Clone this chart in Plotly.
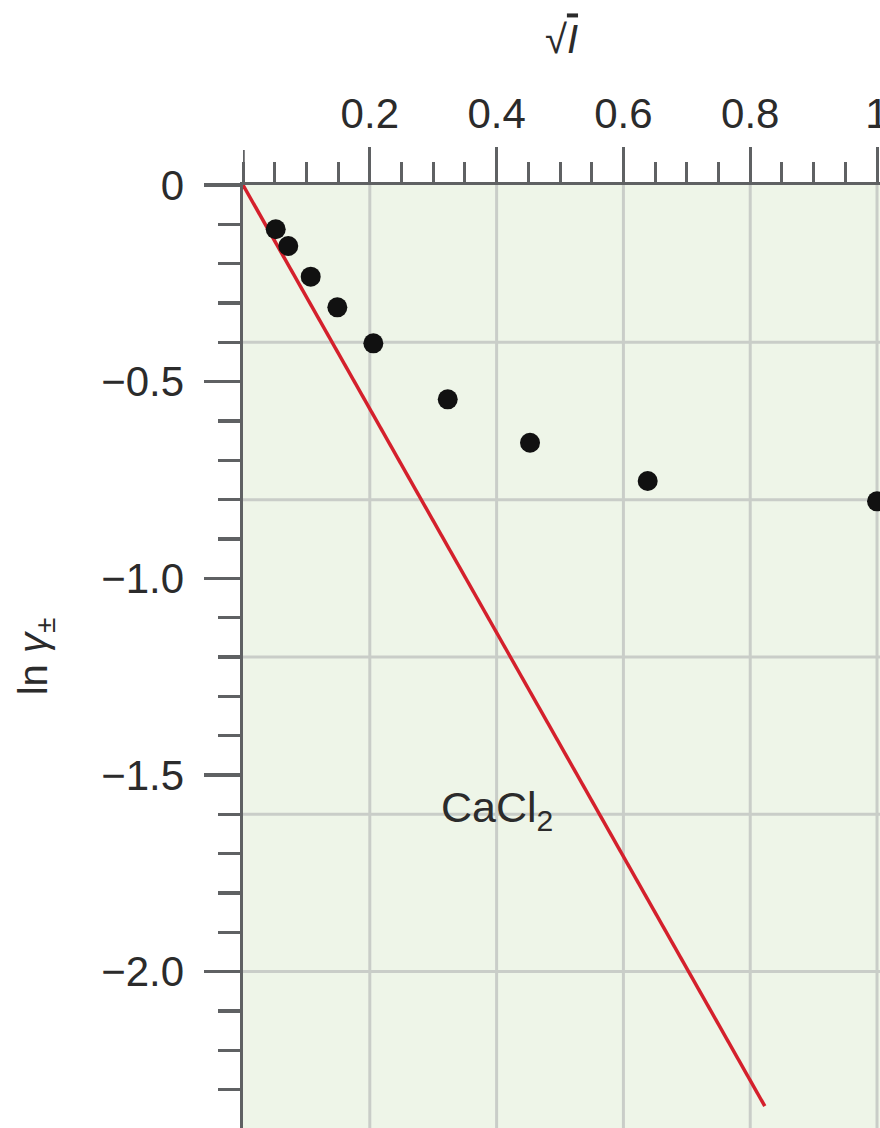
import plotly.graph_objects as go

# data
sqrt_I = [0.0516, 0.0714, 0.1068, 0.1488, 0.2056, 0.3229, 0.4527, 0.6383, 1.0]
ln_gamma = [-0.1126, -0.1551, -0.2331, -0.3110, -0.4026, -0.5449, -0.6553, -0.7526, -0.8043]

limit_x = [0.0, 0.823]
limit_y = [0.0, -2.342]

x_tickvals = [0.2, 0.4, 0.6, 0.8, 1.0]
x_ticktext = ["0.2", "0.4", "0.6", "0.8", "1"]
x_gridvals = [0.2, 0.4, 0.6, 0.8, 1.0]
y_tickvals = [0, -0.5, -1.0, -1.5, -2.0]
y_ticktext = ["0", "\u22120.5", "\u22121.0", "\u22121.5", "\u22122.0"]
y_gridvals = [-0.4, -0.8, -1.2, -1.6, -2.0]

x_range = [0, 1.0047]
y_range = [-2.3977, 0]

FONT = "Liberation Sans, Arial, Helvetica, sans-serif"
AXIS_COL = "#5f6163"
GRID_COL = "#c9cdc8"
BG = "#eef5e8"
TXT = "#2b2b2b"

fig = go.Figure()

fig.add_trace(go.Scatter(
    x=limit_x, y=limit_y, mode="lines",
    line=dict(color="#d4202c", width=3.5),
    showlegend=False, hoverinfo="skip",
))
fig.add_trace(go.Scatter(
    x=sqrt_I, y=ln_gamma, mode="markers",
    marker=dict(color="#111111", size=20, line=dict(width=0)),
    showlegend=False,
))

for g in y_gridvals:
    fig.add_shape(type="line", xref="paper", x0=0, x1=1, yref="y", y0=g, y1=g,
                  line=dict(color=GRID_COL, width=3), layer="below")
for g in x_gridvals:
    fig.add_shape(type="line", yref="paper", y0=0, y1=1, xref="x", x0=g, x1=g,
                  line=dict(color=GRID_COL, width=3), layer="below")

# long tick at the x origin (continuation of the y axis above the top axis)
fig.add_shape(type="line", xref="x", x0=0, x1=0, yref="paper", ysizemode="pixel",
              yanchor=1, y0=0, y1=35, line=dict(color=AXIS_COL, width=3.5))

fig.add_annotation(x=0.4, y=-1.59, xref="x", yref="y",
                   text="CaCl<sub>2</sub>", showarrow=False,
                   font=dict(family=FONT, size=43, color=TXT))

fig.update_layout(
    width=880, height=1128,
    margin=dict(l=243, r=0, t=185, b=0, pad=0, autoexpand=False),
    paper_bgcolor="white", plot_bgcolor=BG,
    font=dict(family=FONT, color=TXT),
    xaxis=dict(
        side="top", range=x_range, automargin=False,
        tickmode="array", tickvals=x_tickvals, ticktext=x_ticktext,
        ticks="outside", ticklen=35, tickwidth=3, tickcolor=AXIS_COL,
        tickfont=dict(family=FONT, size=42, color=TXT),
        ticklabelstandoff=2, ticklabeloverflow="allow",
        minor=dict(tickmode="linear", tick0=0, dtick=0.05, ticks="outside",
                   ticklen=20, tickwidth=3, tickcolor=AXIS_COL, showgrid=False),
        showline=True, linecolor=AXIS_COL, linewidth=3.5,
        showgrid=False, zeroline=False, fixedrange=True,
        title=dict(text="\u221a<span style='text-decoration:overline'><i>I</i></span>",
                   font=dict(family=FONT, size=40, color=TXT), standoff=24),
    ),
    yaxis=dict(
        range=y_range, automargin=False,
        tickmode="array", tickvals=y_tickvals, ticktext=y_ticktext,
        ticks="outside", ticklen=36, tickwidth=3.5, tickcolor=AXIS_COL,
        tickfont=dict(family=FONT, size=42, color=TXT),
        ticklabelstandoff=11,
        minor=dict(tickmode="linear", tick0=0, dtick=0.1, ticks="outside",
                   ticklen=22, tickwidth=3.5, tickcolor=AXIS_COL, showgrid=False),
        showline=True, linecolor=AXIS_COL, linewidth=3.5,
        showgrid=False, zeroline=False, fixedrange=True,
        title=dict(text="ln <i>\u03b3</i><sub>\u00b1</sub>",
                   font=dict(family=FONT, size=40, color=TXT), standoff=42),
    ),
)

fig.write_html(
    "out.html",
    config={"displayModeBar": False, "staticPlot": True},
    post_script="document.body.style.margin='0';document.body.style.overflow='hidden';"
                "document.documentElement.style.overflow='hidden';",
)
